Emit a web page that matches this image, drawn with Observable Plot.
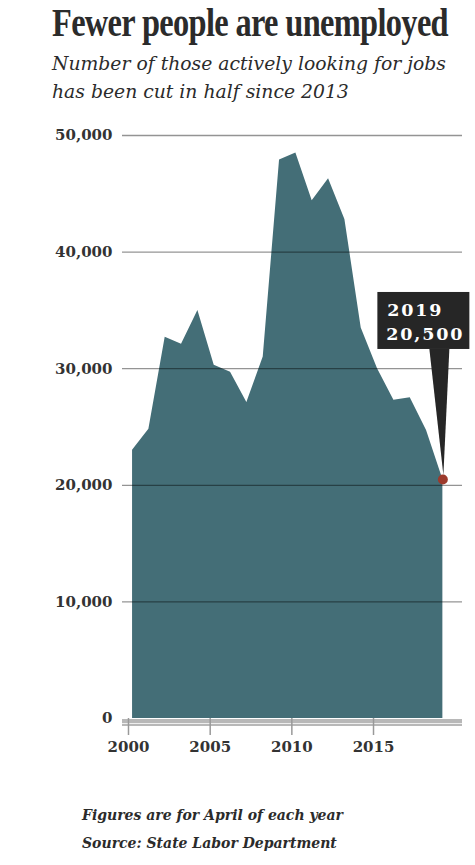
<!DOCTYPE html>
<html>
<head>
<meta charset="utf-8">
<script src="https://cdn.jsdelivr.net/npm/d3@7"></script>
<script src="https://cdn.jsdelivr.net/npm/@observablehq/plot@0.6"></script>
<style>
  html, body { margin: 0; padding: 0; background: #fff; }
  #wrap { position: relative; width: 475px; height: 865px; overflow: hidden; }
  .title { position: absolute; left: 52px; top: 0px; font-family: "Liberation Serif", serif; font-weight: bold; font-size: 39px; line-height: 46px; color: #2b2b2b; letter-spacing: -0.8px; white-space: nowrap; transform-origin: 0 0; }
  .sub { position: absolute; left: 52px; top: 50px; font-family: "DejaVu Serif", serif; font-style: italic; font-size: 18.8px; line-height: 28px; color: #2b2b2b; white-space: nowrap; transform-origin: 0 0; }
  .foot { position: absolute; left: 82px; top: 801px; font-family: "DejaVu Serif", serif; font-style: italic; font-weight: bold; font-size: 14px; line-height: 28px; color: #2b2b2b; white-space: nowrap; transform-origin: 0 0; }
  #chart { position: absolute; left: 0; top: 120px; }
</style>
</head>
<body>
<div id="wrap">
  <div class="title" id="t">Fewer people are unemployed</div>
  <div class="sub" id="s">Number of those actively looking for jobs<br>has been cut in half since 2013</div>
  <div class="foot" id="f">Figures are for April of each year<br>Source: State Labor Department</div>
  <div id="chart"></div>
</div>
<script>
// Data: number of unemployed people actively looking for jobs (April of each year)
const years = [2000, 2001, 2002, 2003, 2004, 2005, 2006, 2007, 2008, 2009,
               2010, 2011, 2012, 2013, 2014, 2015, 2016, 2017, 2018, 2019];
const unemployed = [23000, 24800, 32700, 32100, 35000, 30300, 29700, 27100, 31000, 47900,
                    48500, 44400, 46300, 42800, 33500, 30000, 27300, 27500, 24700, 20500];
const yTicks = [0, 10000, 20000, 30000, 40000, 50000];
const xTickYears = [2000, 2005, 2010, 2015];
const calloutYear = "2019";
const calloutLabel = "20,500";

const april = y => new Date(Date.UTC(y, 3, 1));
const data = years.map((y, i) => ({date: april(y), value: unemployed[i]}));
const last = data[data.length - 1];

function callout(index, scales) {
  const px = scales.x(last.date), py = scales.y(last.value);
  const g = d3.create("svg:g");
  g.append("path")
    .attr("d", `M${px - 13},${py - 130} L${px + 7},${py - 130} L${px + 1},${py - 4} Z`)
    .attr("fill", "#262626");
  g.append("rect")
    .attr("x", px - 65).attr("y", py - 187)
    .attr("width", 92).attr("height", 57)
    .attr("fill", "#262626");
  const t = g.append("text")
    .attr("fill", "#fff")
    .attr("text-anchor", "start")
    .attr("font-family", "DejaVu Serif, serif")
    .attr("font-weight", "bold")
    .attr("font-size", 17.5)
    .attr("letter-spacing", 1.8);
  t.append("tspan").attr("x", px - 55).attr("y", py - 163).text(calloutYear);
  t.append("tspan").attr("x", px - 56).attr("y", py - 139).text(calloutLabel);
  return g.node();
}

const chart = Plot.plot({
  width: 475,
  height: 650,
  marginTop: 15,
  marginBottom: 52,
  marginLeft: 122,
  marginRight: 13,
  style: {fontFamily: "DejaVu Serif, serif", fontSize: "15px", fontWeight: "bold", color: "#333", background: "transparent"},
  x: {type: "utc", domain: [new Date(Date.UTC(1999, 7, 20)), new Date(Date.UTC(2020, 5, 13))]},
  y: {domain: [0, 50000]},
  marks: [
    Plot.areaY(data, {x: "date", y: "value", fill: "#446e77"}),
    Plot.gridY(yTicks.filter(d => d > 0), {stroke: "#000", strokeOpacity: 0.42, strokeWidth: 1.3}),
    Plot.ruleY([0], {stroke: "#b8b8b8", strokeWidth: 7, dy: 4}),
    Plot.ruleY([0], {stroke: "#eee", strokeWidth: 1, dy: 5}),
    Plot.axisY({ticks: yTicks, tickSize: 0, tickPadding: 10, tickFormat: d => d3.format(",")(d), label: null}),
    Plot.axisX({ticks: xTickYears.map(y => new Date(Date.UTC(y, 0, 1))), tickFormat: d3.utcFormat("%Y"), tickSize: 17, tickPadding: 6, stroke: "#999", strokeWidth: 1.5, label: null}),
    callout,
    Plot.dot([last], {x: "date", y: "value", r: 5, fill: "#9c3a2c"})
  ]
});
document.getElementById("chart").appendChild(chart);

// fit the condensed headline to the width it takes in the reference
const t = document.getElementById("t");
const tw = t.getBoundingClientRect().width;
t.style.transform = `scaleX(${396 / tw})`;
</script>
</body>
</html>
